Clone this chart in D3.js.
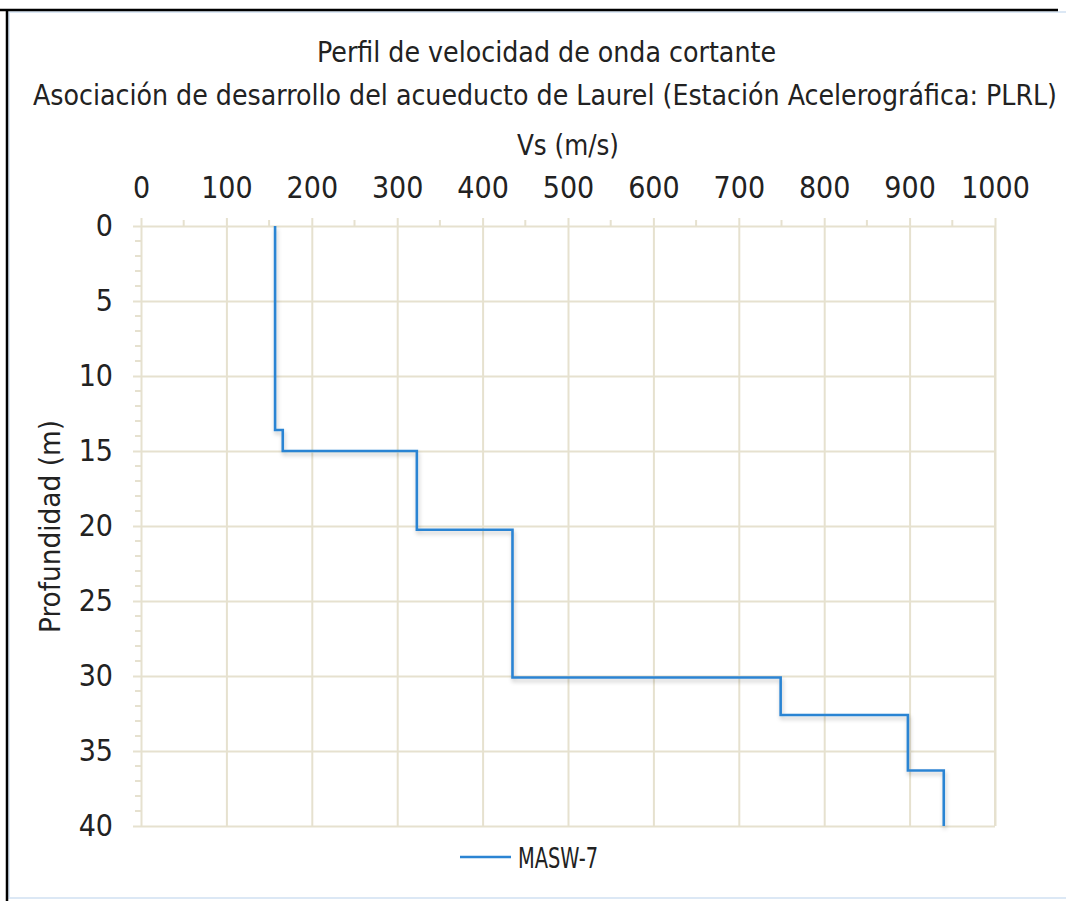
<!DOCTYPE html>
<html>
<head>
<meta charset="utf-8">
<title>Perfil Vs</title>
<script src="https://d3js.org/d3.v7.min.js"></script>
<style>
  body { margin: 0; background: #fff; }
  svg text { fill: #222; font-family: "DejaVu Sans Condensed", "Liberation Sans Narrow", sans-serif; }
</style>
</head>
<body>
<div id="chart"></div>
<script>
// step profile: depth boundaries (m) and Vs of each layer (m/s)
var layerTop = [0, 13.6, 15, 20.25, 30.1, 32.6, 36.3];
var layerBottom = [13.6, 15, 20.25, 30.1, 32.6, 36.3, 40];
var layerVs = [157, 166, 323, 435, 749, 898, 940];
var seriesName = "MASW-7";

var xTicks = [0, 100, 200, 300, 400, 500, 600, 700, 800, 900, 1000];
var yTicks = [0, 5, 10, 15, 20, 25, 30, 35, 40];

var W = 1066, H = 901;
var margin = {top: 226, right: 71, bottom: 75, left: 141};
var width = 995 - margin.left,
    height = 826 - margin.top;

var svg = d3.select("#chart").append("svg")
    .attr("width", W)
    .attr("height", H);

// frame
svg.append("rect").attr("x", 9).attr("y", 12).attr("width", W + 10).attr("height", 886)
    .attr("fill", "none").attr("stroke", "#dce8f5").attr("stroke-width", 2);
svg.append("line").attr("x1", 0).attr("x2", 1058).attr("y1", 10).attr("y2", 10)
    .attr("stroke", "#000").attr("stroke-width", 2.5);
svg.append("line").attr("x1", 7).attr("x2", 7).attr("y1", 9).attr("y2", H)
    .attr("stroke", "#000").attr("stroke-width", 2.5);

var defs = svg.append("defs");
var f = defs.append("filter").attr("id", "shadow").attr("x", "-10%").attr("y", "-10%").attr("width", "130%").attr("height", "130%");
f.append("feDropShadow").attr("dx", 1).attr("dy", 3).attr("stdDeviation", 2)
    .attr("flood-color", "#000").attr("flood-opacity", 0.22);

var g = svg.append("g")
    .attr("transform", "translate(" + margin.left + "," + margin.top + ")");

var x = d3.scaleLinear().domain([0, 1000]).range([0, width]);
var y = d3.scaleLinear().domain([0, 40]).range([0, height]);

var gridColor = "#e6e1cf";

// minor ticks
g.append("g").selectAll("line")
    .data(d3.range(50, 1000, 100))
    .enter().append("line")
    .attr("x1", function(d) { return x(d); }).attr("x2", function(d) { return x(d); })
    .attr("y1", -6).attr("y2", 0)
    .attr("stroke", gridColor).attr("stroke-width", 2);
g.append("g").selectAll("line")
    .data(d3.range(1, 40).filter(function(d) { return d % 5 != 0; }))
    .enter().append("line")
    .attr("y1", function(d) { return y(d); }).attr("y2", function(d) { return y(d); })
    .attr("x1", -6).attr("x2", 0)
    .attr("stroke", gridColor).attr("stroke-width", 2);

// grid + axes
var xAxis = g.append("g")
    .call(d3.axisTop(x).tickValues(xTicks).tickFormat(d3.format("d")).tickSize(height + 8).tickPadding(20))
    .attr("transform", "translate(0," + height + ")");
var yAxis = g.append("g")
    .call(d3.axisLeft(y).tickValues(yTicks).tickFormat(d3.format("d")).tickSize(width + 8).tickPadding(20))
    .attr("transform", "translate(" + width + ",0)");

[xAxis, yAxis].forEach(function(a) {
    a.select(".domain").remove();
    a.selectAll(".tick line").attr("stroke", gridColor).attr("stroke-width", 2);
    a.selectAll(".tick text").style("font-size", "30px").attr("fill", "#222");
});
g.append("line").attr("x1", width).attr("x2", width).attr("y1", 0).attr("y2", height)
    .attr("stroke", gridColor).attr("stroke-width", 2);

// step line
var pts = [];
layerVs.forEach(function(v, i) {
    pts.push([v, layerTop[i]]);
    pts.push([v, layerBottom[i]]);
});
var line = d3.line()
    .x(function(d) { return x(d[0]); })
    .y(function(d) { return y(d[1]); });

g.append("path")
    .datum(pts)
    .attr("d", line)
    .attr("fill", "none")
    .attr("stroke", "#2b84d3")
    .attr("stroke-width", 2.6)
    .attr("filter", "url(#shadow)");

// titles
function fitText(tx, ty, len, size, str) {
    return svg.append("text").attr("x", tx).attr("y", ty)
        .attr("textLength", len).attr("lengthAdjust", "spacingAndGlyphs")
        .style("font-size", size + "px").text(str);
}
fitText(317, 62, 459, 28, "Perfil de velocidad de onda cortante");
fitText(33, 105, 1024, 28, "Asociación de desarrollo del acueducto de Laurel (Estación Acelerográfica: PLRL)");
fitText(517, 155, 102, 28, "Vs (m/s)");
svg.append("text").attr("transform", "translate(60,633) rotate(-90)")
    .attr("textLength", 213).attr("lengthAdjust", "spacingAndGlyphs")
    .style("font-size", "28px").text("Profundidad (m)");

// legend
svg.append("line").attr("x1", 460).attr("x2", 511).attr("y1", 857).attr("y2", 857)
    .attr("stroke", "#2b84d3").attr("stroke-width", 2.4);
fitText(518, 868, 80, 29, seriesName);
</script>
</body>
</html>
